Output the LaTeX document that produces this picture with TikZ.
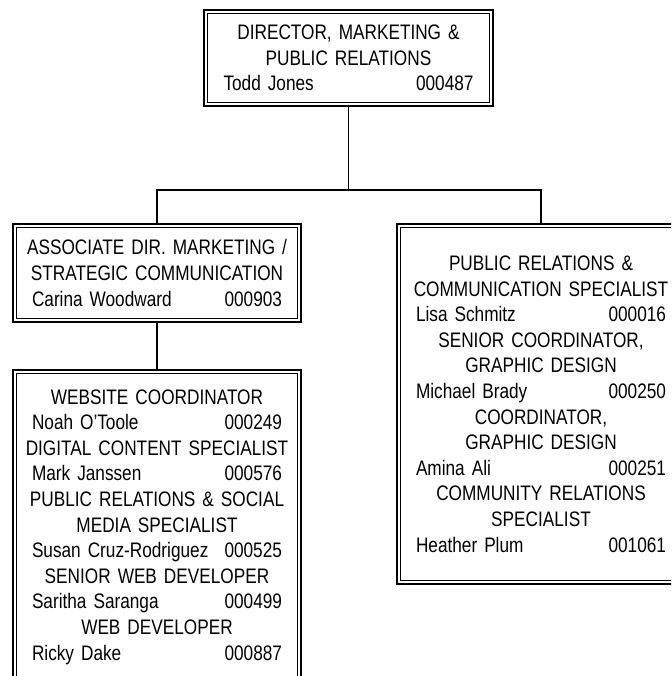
\documentclass[tikz,border=0pt]{standalone}
\usepackage{fontspec}
\setmainfont[FakeStretch=0.82]{Liberation Sans}
\tikzset{
  puesto/.style={draw, line width=1.6pt, text width=266pt, align=center, inner sep=0pt,
    font=\fontsize{21}{25.6}\selectfont},
  enlace/.style={line width=1.3pt},
}
\newcommand{\quien}[2]{\makebox[250pt]{#1\hfill #2}}
\begin{document}
\begin{tikzpicture}[x=1pt,y=1pt]
    \useasboundingbox (0,0) rectangle (671,-676);
    \clip (0,0) rectangle (671,-676);
    \node[puesto, minimum width=289pt, minimum height=96pt] (dir) at (348.5,-58)
        {DIRECTOR, MARKETING \&\\PUBLIC RELATIONS\\\quien{Todd Jones}{000487}};
    \node[puesto, minimum width=288pt, minimum height=98pt] (asoc) at (157,-273)
        {ASSOCIATE DIR. MARKETING /\\STRATEGIC COMMUNICATION\\\quien{Carina Woodward}{000903}};
    \node[puesto, minimum width=288pt, minimum height=360pt] (rp) at (541,-404)
        {PUBLIC RELATIONS \&\\COMMUNICATION SPECIALIST\\\quien{Lisa Schmitz}{000016}\\
         SENIOR COORDINATOR,\\GRAPHIC DESIGN\\\quien{Michael Brady}{000250}\\
         COORDINATOR,\\GRAPHIC DESIGN\\\quien{Amina Ali}{000251}\\
         COMMUNITY RELATIONS\\SPECIALIST\\\quien{Heather Plum}{001061}};
    \node[puesto, minimum width=288pt, minimum height=314pt] (web) at (157,-527)
        {WEBSITE COORDINATOR\\\quien{Noah O'Toole}{000249}\\
         DIGITAL CONTENT SPECIALIST\\\quien{Mark Janssen}{000576}\\
         PUBLIC RELATIONS \& SOCIAL\\MEDIA SPECIALIST\\\quien{Susan Cruz-Rodriguez}{000525}\\
         SENIOR WEB DEVELOPER\\\quien{Saritha Saranga}{000499}\\
         WEB DEVELOPER\\\quien{Ricky Dake}{000887}};
    % Borde interior de cada recuadro
    \foreach \n in {dir,asoc,rp,web}
        \draw[line width=0.8pt] ([shift={(4.5,-4.5)}]\n.north west) rectangle ([shift={(-4.5,4.5)}]\n.south east);
    \coordinate (rama) at (348.5,-190);
    \draw[enlace] (dir.south) -- (rama);
    \draw[enlace] (asoc.north) |- (rama) -| (rp.north);
    \draw[enlace] (asoc.south) -- (web.north);
\end{tikzpicture}
\end{document}
